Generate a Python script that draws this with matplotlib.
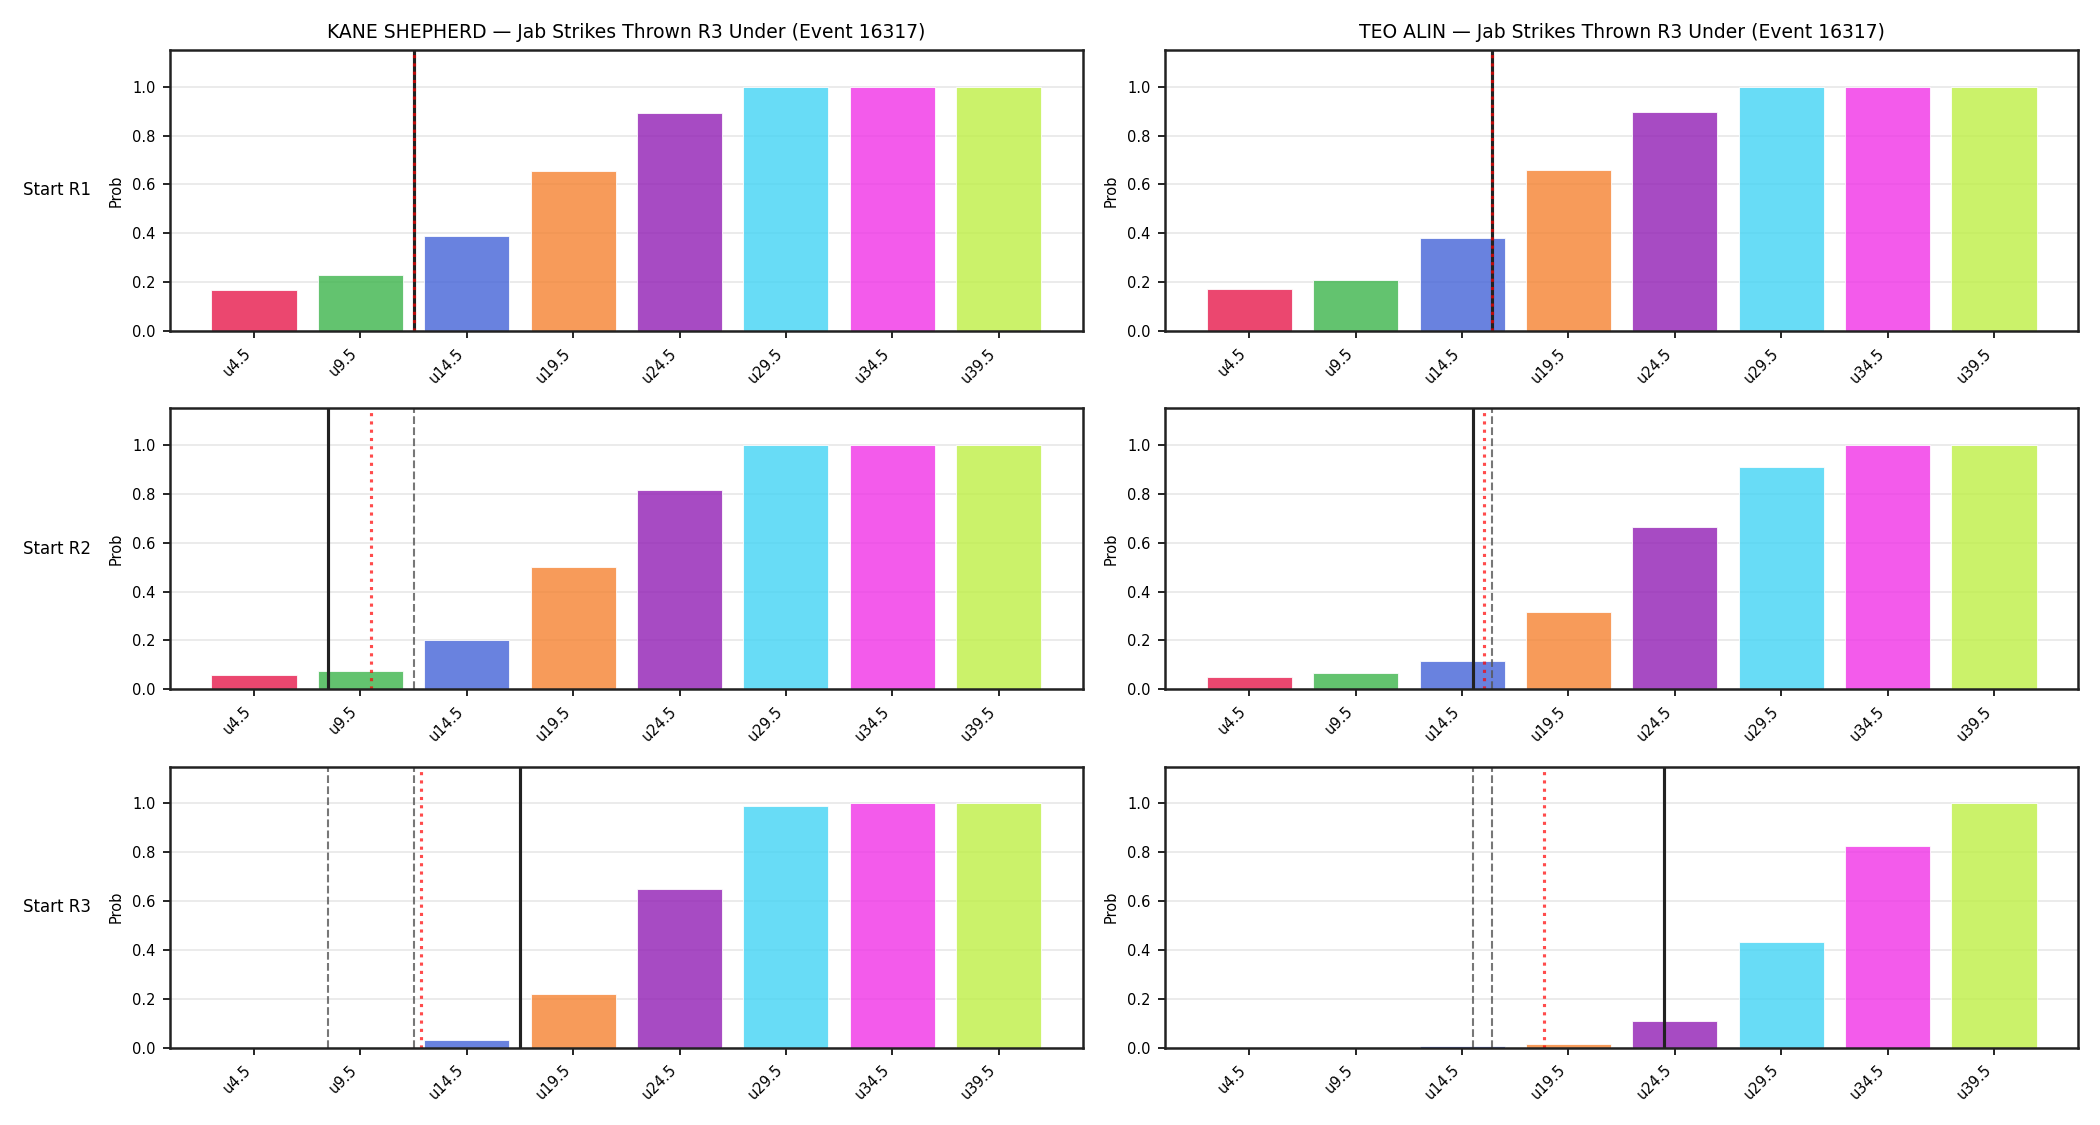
import matplotlib
matplotlib.use('Agg')
import matplotlib.pyplot as plt
import numpy as np

# lignes (strikes) et couleurs des barres
lines = [4.5, 9.5, 14.5, 19.5, 24.5, 29.5, 34.5, 39.5]
tick_labels = ['u4.5', 'u9.5', 'u14.5', 'u19.5', 'u24.5', 'u29.5', 'u34.5', 'u39.5']
colors = ['#e6194b', '#3cb44b', '#4363d8', '#f58231', '#911eb4', '#42d4f4', '#f032e6', '#bfef45']

fighters = ['KANE SHEPHERD', 'TEO ALIN']
rows = ['Start R1', 'Start R2', 'Start R3']

# probabilites under, par combattant et par round de depart
kane_r1 = [0.167, 0.229, 0.389, 0.656, 0.892, 0.999, 1.0, 1.0]
kane_r2 = [0.057, 0.073, 0.200, 0.499, 0.817, 0.999, 1.0, 1.0]
kane_r3 = [0.0, 0.002, 0.031, 0.219, 0.650, 0.990, 1.0, 1.0]
teo_r1 = [0.170, 0.209, 0.380, 0.660, 0.896, 1.0, 1.0, 1.0]
teo_r2 = [0.049, 0.065, 0.115, 0.317, 0.666, 0.909, 1.0, 1.0]
teo_r3 = [0.0, 0.001, 0.005, 0.013, 0.109, 0.433, 0.823, 1.0]

# moyenne projetee (trait noir) et mediane (pointille rouge)
kane_mean = [12.0, 8.0, 17.0]
kane_median = [12.0, 10.0, 12.35]
teo_mean = [15.9, 15.0, 24.0]
teo_median = [15.9, 15.55, 18.37]

probs = [[kane_r1, teo_r1], [kane_r2, teo_r2], [kane_r3, teo_r3]]
means = [kane_mean, teo_mean]
medians = [kane_median, teo_median]

fig, axes = plt.subplots(3, 2, figsize=(14, 7.5), dpi=150)
fig.subplots_adjust(left=170 / 2100, right=2078 / 2100, top=1 - 50 / 1125,
                    bottom=1 - 1047.5 / 1125, wspace=0.0906, hspace=0.275)

for i in range(3):
    for j in range(2):
        ax = axes[i, j]
        ax.bar(lines, probs[i][j], width=4, color=colors, alpha=0.8,
               edgecolor='white', linewidth=0.5)
        # anciennes moyennes en gris
        for k in range(i):
            ax.axvline(means[j][k], color='#555555', linestyle='--', linewidth=1, alpha=0.8)
        ax.axvline(means[j][i], color='#222222', linewidth=1.5)
        ax.axvline(medians[j][i], color='red', linestyle=':', linewidth=1.5, alpha=0.7)
        ax.set_ylim(0, 1.15)
        ax.set_xticks(lines)
        ax.set_xticklabels(tick_labels, rotation=45, ha='right', fontsize=7)
        ax.tick_params(axis='y', labelsize=7)
        ax.set_ylabel('Prob', fontsize=7)
        ax.grid(axis='y', alpha=0.3)
        ax.set_axisbelow(True)
        for s in ax.spines.values():
            s.set_color('#222222')
            s.set_linewidth(1.2)
        if i == 0:
            ax.set_title(fighters[j] + ' \u2014 Jab Strikes Thrown R3 Under (Event 16317)', fontsize=9)
        if j == 0:
            ax.text(-0.124, 0.5, rows[i], transform=ax.transAxes, ha='center',
                    va='center', fontsize=8)

fig.savefig('out.png', dpi=150)
